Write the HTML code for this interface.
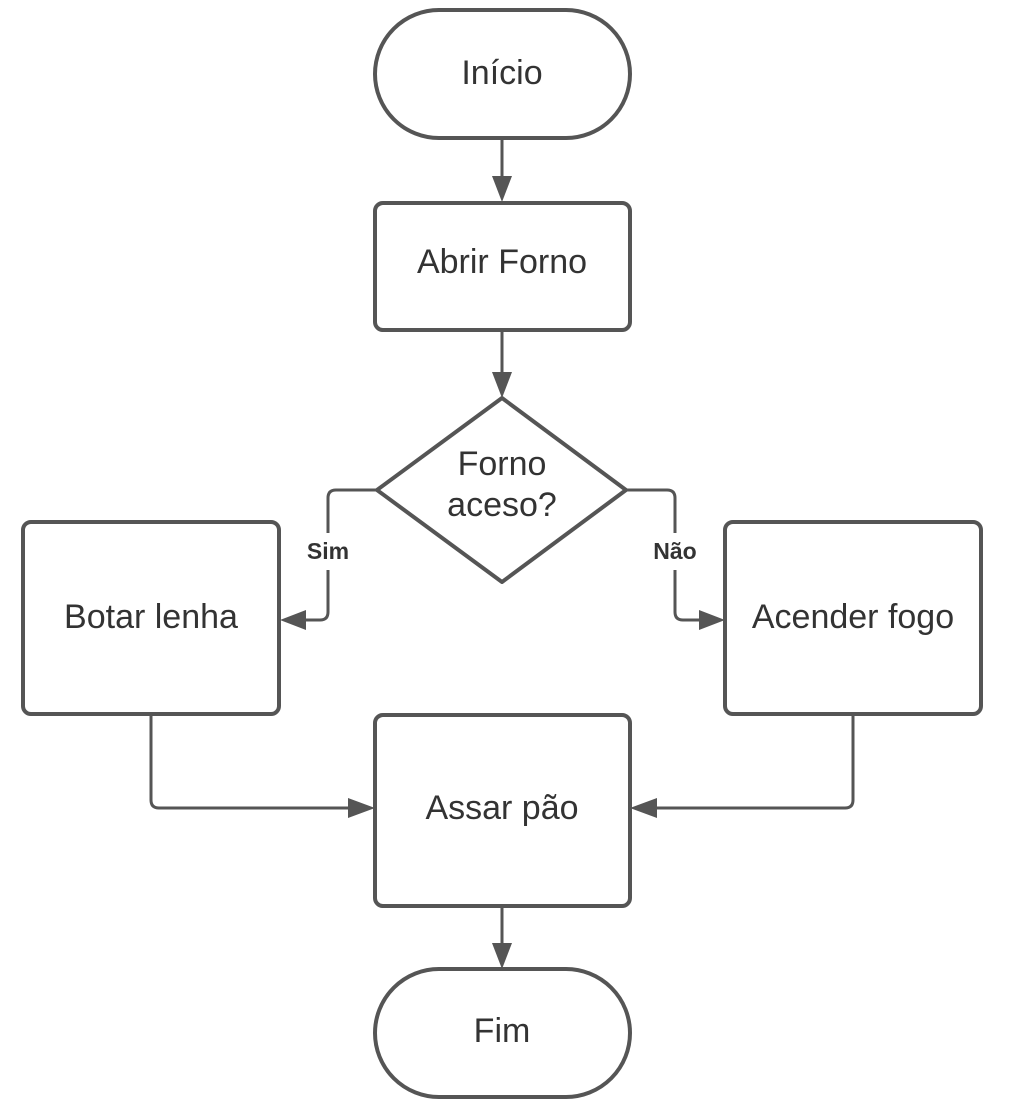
<!DOCTYPE html>
<html><head><meta charset="utf-8"><style>
html,body{margin:0;padding:0;background:#fff;}
svg{display:block;}
text{font-family:"Liberation Sans",sans-serif;fill:#333;}
</style></head><body>
<svg width="1009" height="1108" viewBox="0 0 1009 1108">
<g fill="none" stroke="#555" stroke-width="4">
<rect x="375" y="10" width="255" height="128" rx="64"/>
<rect x="375" y="203" width="255" height="127" rx="8"/>
<path d="M502 398 L626 490 L502 582 L377 490 Z" stroke-linejoin="round"/>
<rect x="23" y="522" width="256" height="192" rx="8"/>
<rect x="725" y="522" width="256" height="192" rx="8"/>
<rect x="375" y="715" width="255" height="191" rx="8"/>
<rect x="375" y="969" width="255" height="128" rx="64"/>
</g>
<g fill="none" stroke="#555" stroke-width="3">
<line x1="502" y1="138" x2="502" y2="180"/>
<line x1="502" y1="330" x2="502" y2="375"/>
<path d="M377 490 H336 Q328 490 328 498 V533"/>
<path d="M328 570 V612 Q328 620 320 620 H302"/>
<path d="M626 490 H667 Q675 490 675 498 V533"/>
<path d="M675 570 V612 Q675 620 683 620 H703"/>
<path d="M151 714 V800 Q151 808 159 808 H352"/>
<path d="M853 714 V800 Q853 808 845 808 H653"/>
<line x1="502" y1="906" x2="502" y2="947"/>
</g>
<g fill="#555">
<path d="M492 176 L512 176 L502 202 Z"/>
<path d="M492 372 L512 372 L502 398 Z"/>
<path d="M306 610 L306 630 L280 620 Z"/>
<path d="M699 610 L699 630 L725 620 Z"/>
<path d="M348 798 L348 818 L375 808 Z"/>
<path d="M657 798 L657 818 L630 808 Z"/>
<path d="M492 943 L512 943 L502 969 Z"/>
</g>
<g font-size="34" text-anchor="middle">
<text x="502" y="84">Início</text>
<text x="502" y="273">Abrir Forno</text>
<text x="502" y="475">Forno</text>
<text x="502" y="516">aceso?</text>
<text x="151" y="628">Botar lenha</text>
<text x="853" y="628">Acender fogo</text>
<text x="502" y="819">Assar pão</text>
<text x="502" y="1042">Fim</text>
</g>
<g font-size="23" font-weight="bold" text-anchor="middle">
<text x="328" y="559">Sim</text>
<text x="675" y="559">Não</text>
</g>
</svg>
</body></html>
